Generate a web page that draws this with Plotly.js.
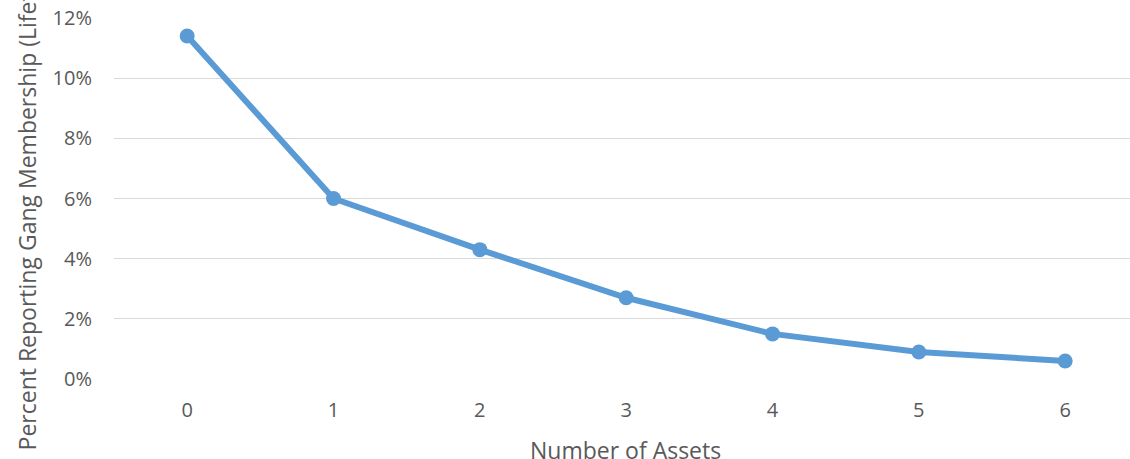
<!DOCTYPE html>
<html>
<head>
<meta charset="utf-8">
<script src="https://cdn.plot.ly/plotly-3.0.1.min.js"></script>
<style>html,body{margin:0;padding:0;background:#fff;overflow:hidden}</style>
</head>
<body>
<div id="chart" style="width:1130px;height:459px"></div>
<script>
const assets = [0, 1, 2, 3, 4, 5, 6];
const percentGang = [0.114, 0.060, 0.043, 0.027, 0.015, 0.009, 0.006];
const yTickVals = [0, 0.02, 0.04, 0.06, 0.08, 0.10, 0.12];
const yTickText = ['0%', '2%', '4%', '6%', '8%', '10%', '12%'];
const xTickText = ['0', '1', '2', '3', '4', '5', '6'];
const xTitle = 'Number of Assets';
const yTitle = 'Percent Reporting Gang Membership (Lifetime)';

const trace = {
  x: assets,
  y: percentGang,
  type: 'scatter',
  mode: 'lines+markers',
  line: {color: '#5B9BD5', width: 6},
  marker: {color: '#5B9BD5', size: 15},
  hoverinfo: 'skip'
};

const layout = {
  width: 1130,
  height: 459,
  margin: {l: 114, r: 0, t: 18, b: 80},
  paper_bgcolor: '#ffffff',
  plot_bgcolor: '#ffffff',
  showlegend: false,
  font: {family: 'Open Sans, sans-serif', color: '#595959'},
  xaxis: {
    range: [-0.5, 6.443],
    tickvals: assets,
    ticktext: xTickText,
    showgrid: false,
    zeroline: false,
    showline: false,
    ticks: '',
    tickfont: {size: 20, color: '#595959'},
    ticklabelstandoff: 17
  },
  yaxis: {
    range: [0, 0.12],
    tickvals: yTickVals,
    ticktext: yTickText,
    showgrid: true,
    gridcolor: '#d9d9d9',
    gridwidth: 1.3,
    zeroline: false,
    showline: false,
    ticks: '',
    tickfont: {size: 20, color: '#595959'},
    ticklabelstandoff: 21,
    title: {text: yTitle, font: {size: 23, color: '#595959'}, standoff: 9}
  },
  annotations: [{
    text: xTitle,
    xref: 'paper', yref: 'paper',
    x: 0.5035, y: -0.197,
    xanchor: 'center', yanchor: 'middle',
    showarrow: false,
    font: {size: 23, color: '#595959'}
  }]
};

Plotly.newPlot('chart', [trace], layout, {displayModeBar: false, staticPlot: true});
</script>
</body>
</html>
